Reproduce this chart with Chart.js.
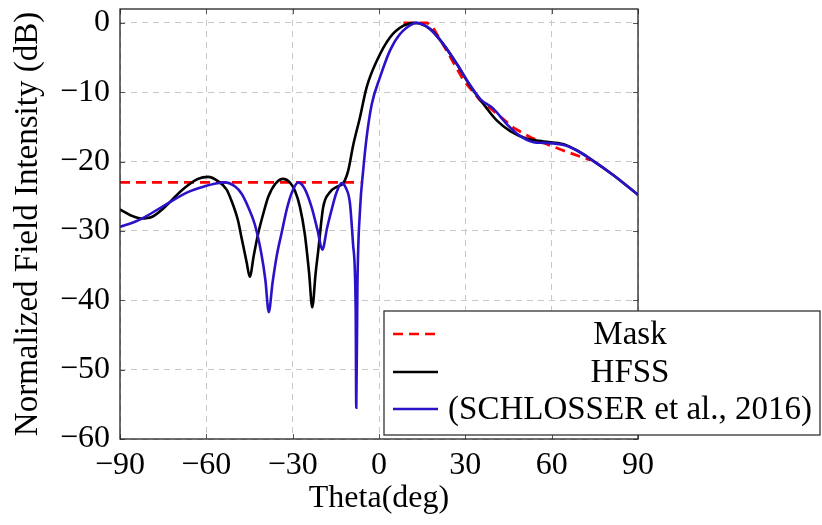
<!DOCTYPE html>
<html>
<head>
<meta charset="utf-8">
<script src="https://cdn.jsdelivr.net/npm/chart.js@4"></script>
<style>
  body { margin: 0; background: #fff; }
  #wrap { width: 822px; height: 525px; }
</style>
</head>
<body>
<div id="wrap"><canvas id="chart" width="822" height="525"></canvas></div>
<script>
/* ---------------- DATA ---------------- */

const xTicks = [-90, -60, -30, 0, 30, 60, 90];
const yTicks = [-60, -50, -40, -30, -20, -10, 0];

const legendLabels = ["Mask", "HFSS", "(SCHLOSSER et al., 2016)"];

// Mask: side-lobe limit, then shaped main beam (null breaks the line)
const maskTheta = [-90, -6.5, null, 8.5, 16.8, 18.8, 23.5, 29.4, 35.2, 41, 46.7, 52.6, 58.4, 64, 73.5];
const maskDb = [-23, -23, null, 0, 0, -0.7, -4, -8.3, -11.2, -13.1, -15.1, -16.5, -17.5, -18.4, -19.8];

const hfssTheta = [-90, -86, -82.6, -79, -74.5, -68.7, -62.9, -59.4, -56, -53, -51.3, -49, -47.8, -46, -44.9,
  -43.5, -42, -40, -38.5, -36, -33.3, -31, -29.2, -27.5, -25.8, -24.3, -23.2, -22, -21.1, -19.4, -17,
  -14.5, -12.4, -10.7, -8.9, -6.6, -4.3, -0.8, 3.8, 8.5, 12.5, 17.8, 22.4, 27, 31.7, 36.3, 41, 45.6,
  51.4, 57.2, 64.2, 68.8, 73.4, 81.6, 90];
const hfssDb = [-26.9, -27.8, -28.2, -28.0, -26.6, -24.2, -22.5, -22.2, -22.8, -24.0, -25.6, -28.5, -30.9, -34.5, -36.6,
  -33.5, -30.4, -27.2, -25.1, -23.2, -22.5, -23.0, -24.2, -26.5, -30.4, -36, -41, -36, -32.8, -26.6, -24.4,
  -23.6, -23.1, -21.3, -17.5, -13.6, -9.3, -5.5, -2.1, -0.4, 0, -0.9, -3.1, -5.9, -9.1, -11.7, -14.1, -15.6,
  -16.7, -17.1, -17.5, -18.4, -19.6, -22, -24.8];

const schTheta = [-90, -85, -81.4, -74.5, -66.4, -60, -57.1, -53.6, -50, -47.8, -45.5, -43.2, -41, -39.5, -38.3,
  -37, -35.5, -33.9, -32, -30.4, -28.1, -26, -23.4, -21.3, -19.7, -18, -16.5, -14.8, -13, -11.5, -10.1,
  -9, -8.1, -7.9, -7.5, -6.6, -5.5, -4.3, -2.5, 0.3, 3.8, 7.3, 11.9, 13, 17.8, 22.4, 27, 31.7, 35.2,
  39.8, 44.4, 49, 53.7, 57.2, 64.2, 68.8, 73.4, 81.6, 90];
const schDb = [-29.4, -28.7, -28.0, -26.3, -24.4, -23.5, -23.2, -23.0, -23.6, -24.6, -26.5, -29, -33, -37, -41.7,
  -37.5, -33.5, -30.4, -26.8, -24.6, -23.0, -23.8, -26.6, -30, -32.7, -29.5, -27, -24.5, -23.1, -23.8, -26,
  -32, -41.4, -55.5, -38, -27, -21.3, -16.5, -11.7, -7.9, -4.0, -1.6, -0.1, 0, -0.9, -3.1, -5.9, -9.0, -11,
  -12.4, -14.6, -16.3, -17.2, -17.3, -17.6, -18.4, -19.6, -22, -24.8];

/* ---------------- STYLE ---------------- */

const FONT = "'Liberation Serif', 'Times New Roman', serif";
const RED = "#ff0000";
const BLACK = "#000000";
const BLUE = "#2a12c8";

const pts = (xs, ys) => xs.map((x, i) => (x === null ? { x: NaN, y: null } : { x, y: ys[i] }));
const minus = v => (v < 0 ? "\u2212" + Math.abs(v) : String(v));

/* ---------------- PLUGINS ---------------- */

// frame + inward ticks like pgfplots
const framePlugin = {
  id: "frame",
  afterDatasetsDraw(chart) {
    const { ctx, chartArea: a, scales } = chart;
    ctx.save();
    ctx.strokeStyle = "#555";
    ctx.lineWidth = 1;
    ctx.beginPath();
    xTicks.forEach(v => {
      const x = Math.round(scales.x.getPixelForValue(v)) + 0.5;
      ctx.moveTo(x, a.bottom); ctx.lineTo(x, a.bottom - 5);
      ctx.moveTo(x, a.top); ctx.lineTo(x, a.top + 5);
    });
    yTicks.forEach(v => {
      const y = Math.round(scales.y.getPixelForValue(v)) + 0.5;
      ctx.moveTo(a.left, y); ctx.lineTo(a.left + 5, y);
      ctx.moveTo(a.right, y); ctx.lineTo(a.right - 5, y);
    });
    ctx.stroke();
    ctx.strokeStyle = "#222";
    ctx.lineWidth = 1.3;
    ctx.strokeRect(a.left, a.top, a.right - a.left, a.bottom - a.top);
    ctx.restore();
  }
};

// legend box overlapping the lower right corner
const legendPlugin = {
  id: "boxLegend",
  afterDraw(chart) {
    const { ctx } = chart;
    const bx = 384, by = 311, bw = 436, bh = 124;
    ctx.save();
    ctx.fillStyle = "#fff";
    ctx.fillRect(bx, by, bw, bh);
    ctx.strokeStyle = "#333";
    ctx.lineWidth = 1.3;
    ctx.strokeRect(bx, by, bw, bh);

    const rows = [334, 372, 409];
    const styles = [
      { color: RED, dash: [10, 6] },
      { color: BLACK, dash: [] },
      { color: BLUE, dash: [] }
    ];
    ctx.font = "33px " + FONT;
    ctx.fillStyle = "#000";
    ctx.textAlign = "center";
    ctx.textBaseline = "middle";
    legendLabels.forEach((lab, i) => {
      ctx.strokeStyle = styles[i].color;
      ctx.setLineDash(styles[i].dash);
      ctx.lineWidth = 2.6;
      ctx.beginPath();
      ctx.moveTo(393, rows[i]);
      ctx.lineTo(438, rows[i]);
      ctx.stroke();
      ctx.fillText(lab, 630, rows[i] + 1);
    });
    ctx.restore();
  }
};

/* ---------------- CHART ---------------- */

new Chart(document.getElementById("chart"), {
  type: "scatter",
  data: {
    datasets: [
      {
        label: legendLabels[0],
        data: pts(maskTheta, maskDb),
        showLine: true,
        spanGaps: false,
        borderColor: RED,
        borderWidth: 2.8,
        borderDash: [10, 6],
        pointRadius: 0,
        tension: 0,
        order: 3
      },
      {
        label: legendLabels[1],
        data: pts(hfssTheta, hfssDb),
        showLine: true,
        borderColor: BLACK,
        borderWidth: 2.6,
        pointRadius: 0,
        cubicInterpolationMode: "monotone",
        order: 2
      },
      {
        label: legendLabels[2],
        data: pts(schTheta, schDb),
        showLine: true,
        borderColor: BLUE,
        borderWidth: 2.6,
        pointRadius: 0,
        cubicInterpolationMode: "monotone",
        order: 1
      }
    ]
  },
  options: {
    responsive: false,
    devicePixelRatio: 1,
    animation: false,
    layout: { padding: { top: 9, right: 184, left: 0, bottom: 0 } },
    plugins: { legend: { display: false }, tooltip: { enabled: false } },
    scales: {
      x: {
        type: "linear",
        min: -90,
        max: 90,
        afterFit: s => { s.height = 86; s.paddingLeft = 0; s.paddingRight = 0; },
        afterBuildTicks: s => { s.ticks = xTicks.map(v => ({ value: v })); },
        grid: { color: "#c8c8c8", lineWidth: 1, drawTicks: false },
        border: { display: false, dash: [6, 5] },
        ticks: {
          padding: 7,
          color: "#000",
          font: { family: FONT, size: 32 },
          callback: minus
        },
        title: {
          display: true,
          text: "Theta(deg)",
          color: "#000",
          padding: 7,
          font: { family: FONT, size: 32 }
        }
      },
      y: {
        type: "linear",
        min: -60,
        max: 2,
        afterFit: s => { s.width = 120; s.paddingTop = 0; s.paddingBottom = 0; },
        afterBuildTicks: s => { s.ticks = yTicks.map(v => ({ value: v })); },
        grid: { color: "#c8c8c8", lineWidth: 1, drawTicks: false },
        border: { display: false, dash: [6, 5] },
        ticks: {
          padding: 10,
          color: "#000",
          font: { family: FONT, size: 32 },
          callback: minus
        },
        title: {
          display: true,
          text: "Normalized Field Intensity (dB)",
          color: "#000",
          padding: 9,
          font: { family: FONT, size: 33 }
        }
      }
    }
  },
  plugins: [framePlugin, legendPlugin]
});
</script>
</body>
</html>
